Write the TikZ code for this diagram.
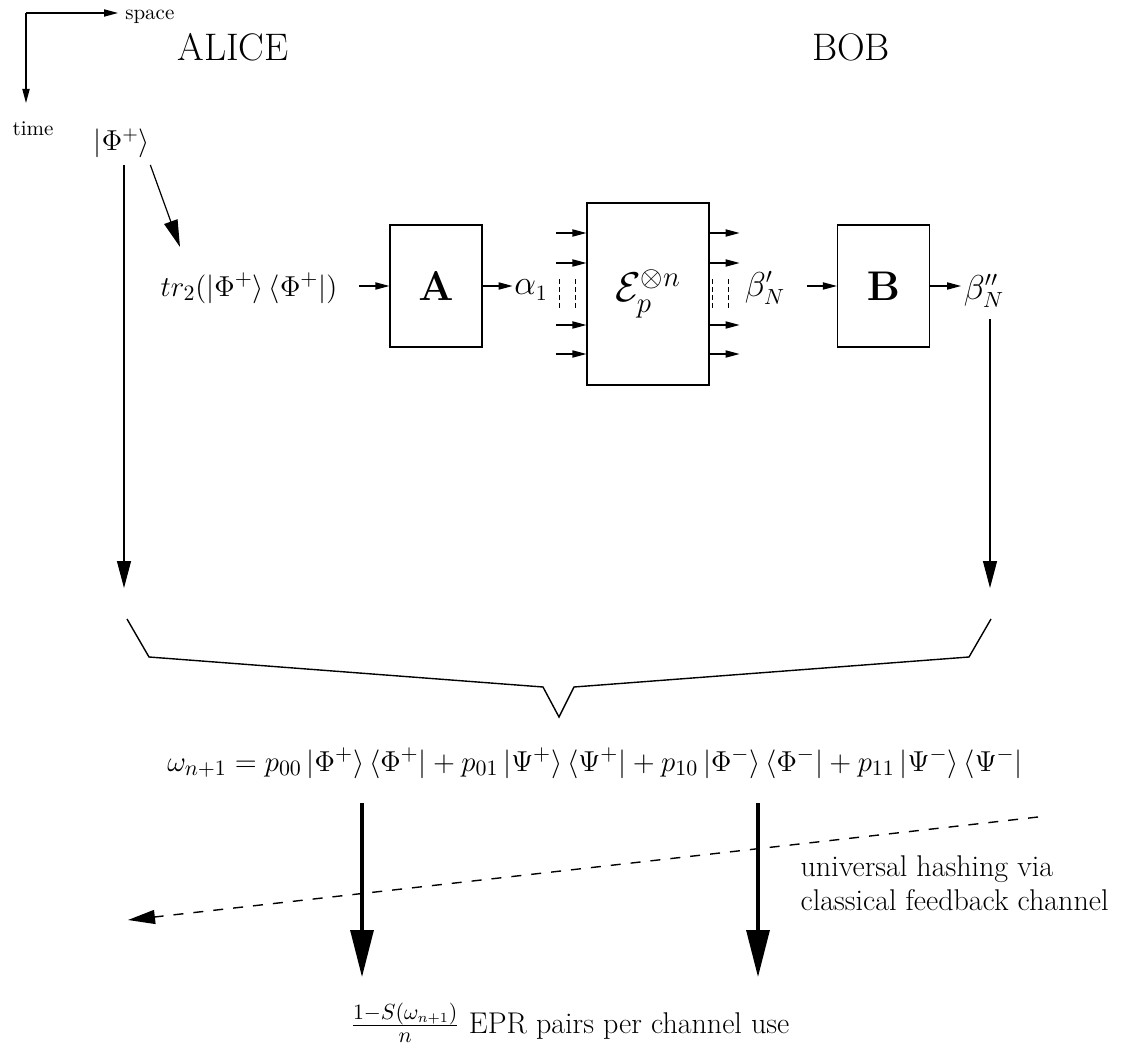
\documentclass[tikz,border=0pt]{standalone}
\usetikzlibrary{arrows.meta}
\newcommand{\labelsize}{\fontsize{15.6}{18}\selectfont}
\newcommand{\namesize}{\fontsize{19.2}{23}\selectfont}
\newcommand{\ket}[1]{|#1\rangle}
\newcommand{\bra}[1]{\langle#1|}
\begin{document}
\begin{tikzpicture}[x=.5pt,y=-.5pt,line width=.6pt,
  smallarr/.style={-{Triangle[length=7pt,width=3.6pt]}},
  longarr/.style={-{Triangle[length=13.5pt,width=7pt]}},
  thickarr/.style={line width=1.6pt,-{Triangle[length=23.5pt,width=11.5pt]}},
  blockbox/.style={draw,inner sep=0pt,minimum width=46pt,minimum height=61pt},
  wires/.style={line width=.4pt,dash pattern=on 2.5pt off 1.5pt}]
\useasboundingbox (0,0) rectangle (1135,1053);
\coordinate (origin) at (26,13);
\node[anchor=west,font=\fontsize{10.5}{12}\selectfont] (space) at (118,17) {space};
\node[font=\fontsize{10.5}{12}\selectfont] (time) at (33,129) {time};
\draw[smallarr] (origin) -- (origin -| space.west);
\draw[smallarr] (origin) -- ++(0,90);
\node[font=\namesize] (alice) at (233,47) {ALICE};
\node[font=\namesize] (bob) at (851,47) {BOB};
\node[font=\Large] (phi) at (122,143) {$\ket{\Phi^+}$};
\node[font=\labelsize] (tr) at (249,288) {$tr_2(\ket{\Phi^+}\,\bra{\Phi^+})$};
\node[blockbox,font=\namesize] (A) at (436,286) {$\mathbf{A}$};
\node[font=\fontsize{16}{19}\selectfont] (alpha) at (531,290) {$\alpha_1$};
\node[blockbox,minimum width=61pt,minimum height=91pt,font=\huge] (E) at (648,294) {$\mathcal{E}_p^{\otimes n}$};
\node[font=\fontsize{16}{19}\selectfont] (betap) at (765,288) {$\beta'_N$};
\node[blockbox,font=\namesize] (B) at (883.5,286) {$\mathbf{B}$};
\node[font=\fontsize{16}{19}\selectfont] (betapp) at (984,291) {$\beta''_N$};
\coordinate (trtip) at (180,247);
\coordinate (aliceend) at (124,588);
\coordinate (bobend) at (990,588);
\draw[longarr] (phi.south -| aliceend) -- (aliceend);
\draw[longarr] ([xshift=-3.5pt]phi.south east) -- (trtip);
\draw[smallarr] ([xshift=-15pt]A.west) -- (A.west);
\draw[smallarr] (A.east) -- ([xshift=15pt]A.east);
\foreach \dy in {-61,-31,31,60} {
  \draw[smallarr] ([shift={(-30,\dy)}]E.west) -- ([shift={(0,\dy)}]E.west);
  \draw[smallarr] ([shift={(0,\dy)}]E.east) -- ([shift={(30,\dy)}]E.east);
}
\foreach \dx in {-27,-11} \draw[wires] ([shift={(\dx,-15)}]E.west) -- ([shift={(\dx,15)}]E.west);
\foreach \dx in {3,19} \draw[wires] ([shift={(\dx,-15)}]E.east) -- ([shift={(\dx,15)}]E.east);
\draw[smallarr] ([xshift=-15pt]B.west) -- (B.west);
\draw[smallarr] (B.east) -- ([xshift=15.5pt]B.east);
\draw[longarr,shorten <=2pt] (betapp.south -| bobend) -- (bobend);
\draw[line width=.7pt] (127,619) -- (149,657) -- (543,687) -- (559,717) -- (574,687) -- (969,657) -- (991,619);
\node[font=\labelsize] (omega) at (595,763) {$\omega_{n+1} = p_{00}\,\ket{\Phi^+}\,\bra{\Phi^+} + p_{01}\,\ket{\Psi^+}\,\bra{\Psi^+} + p_{10}\,\ket{\Phi^-}\,\bra{\Phi^-} + p_{11}\,\ket{\Psi^-}\,\bra{\Psi^-}$};
\coordinate (keyl) at (362,977);
\coordinate (keyr) at (758,977);
\draw[thickarr,shorten <=9pt] (omega.south -| keyl) -- (keyl);
\draw[thickarr,shorten <=9pt] (omega.south -| keyr) -- (keyr);
\coordinate (hashfrom) at (1038,817);
\coordinate (hashto) at (128,920);
\draw[longarr,line width=.7pt,dash pattern=on 5pt off 5pt] (hashfrom) -- (hashto);
\node[font=\fontsize{15}{17}\selectfont,align=left,anchor=north west,inner sep=0pt] (hash) at (800,855) {universal hashing via\\classical feedback channel};
\node[font=\fontsize{15}{18}\selectfont,anchor=base west,inner sep=0pt] (epr) at (350,1033) {$\frac{1-S(\omega_{n+1})}{n}$ EPR pairs per channel use};
\end{tikzpicture}
\end{document}
